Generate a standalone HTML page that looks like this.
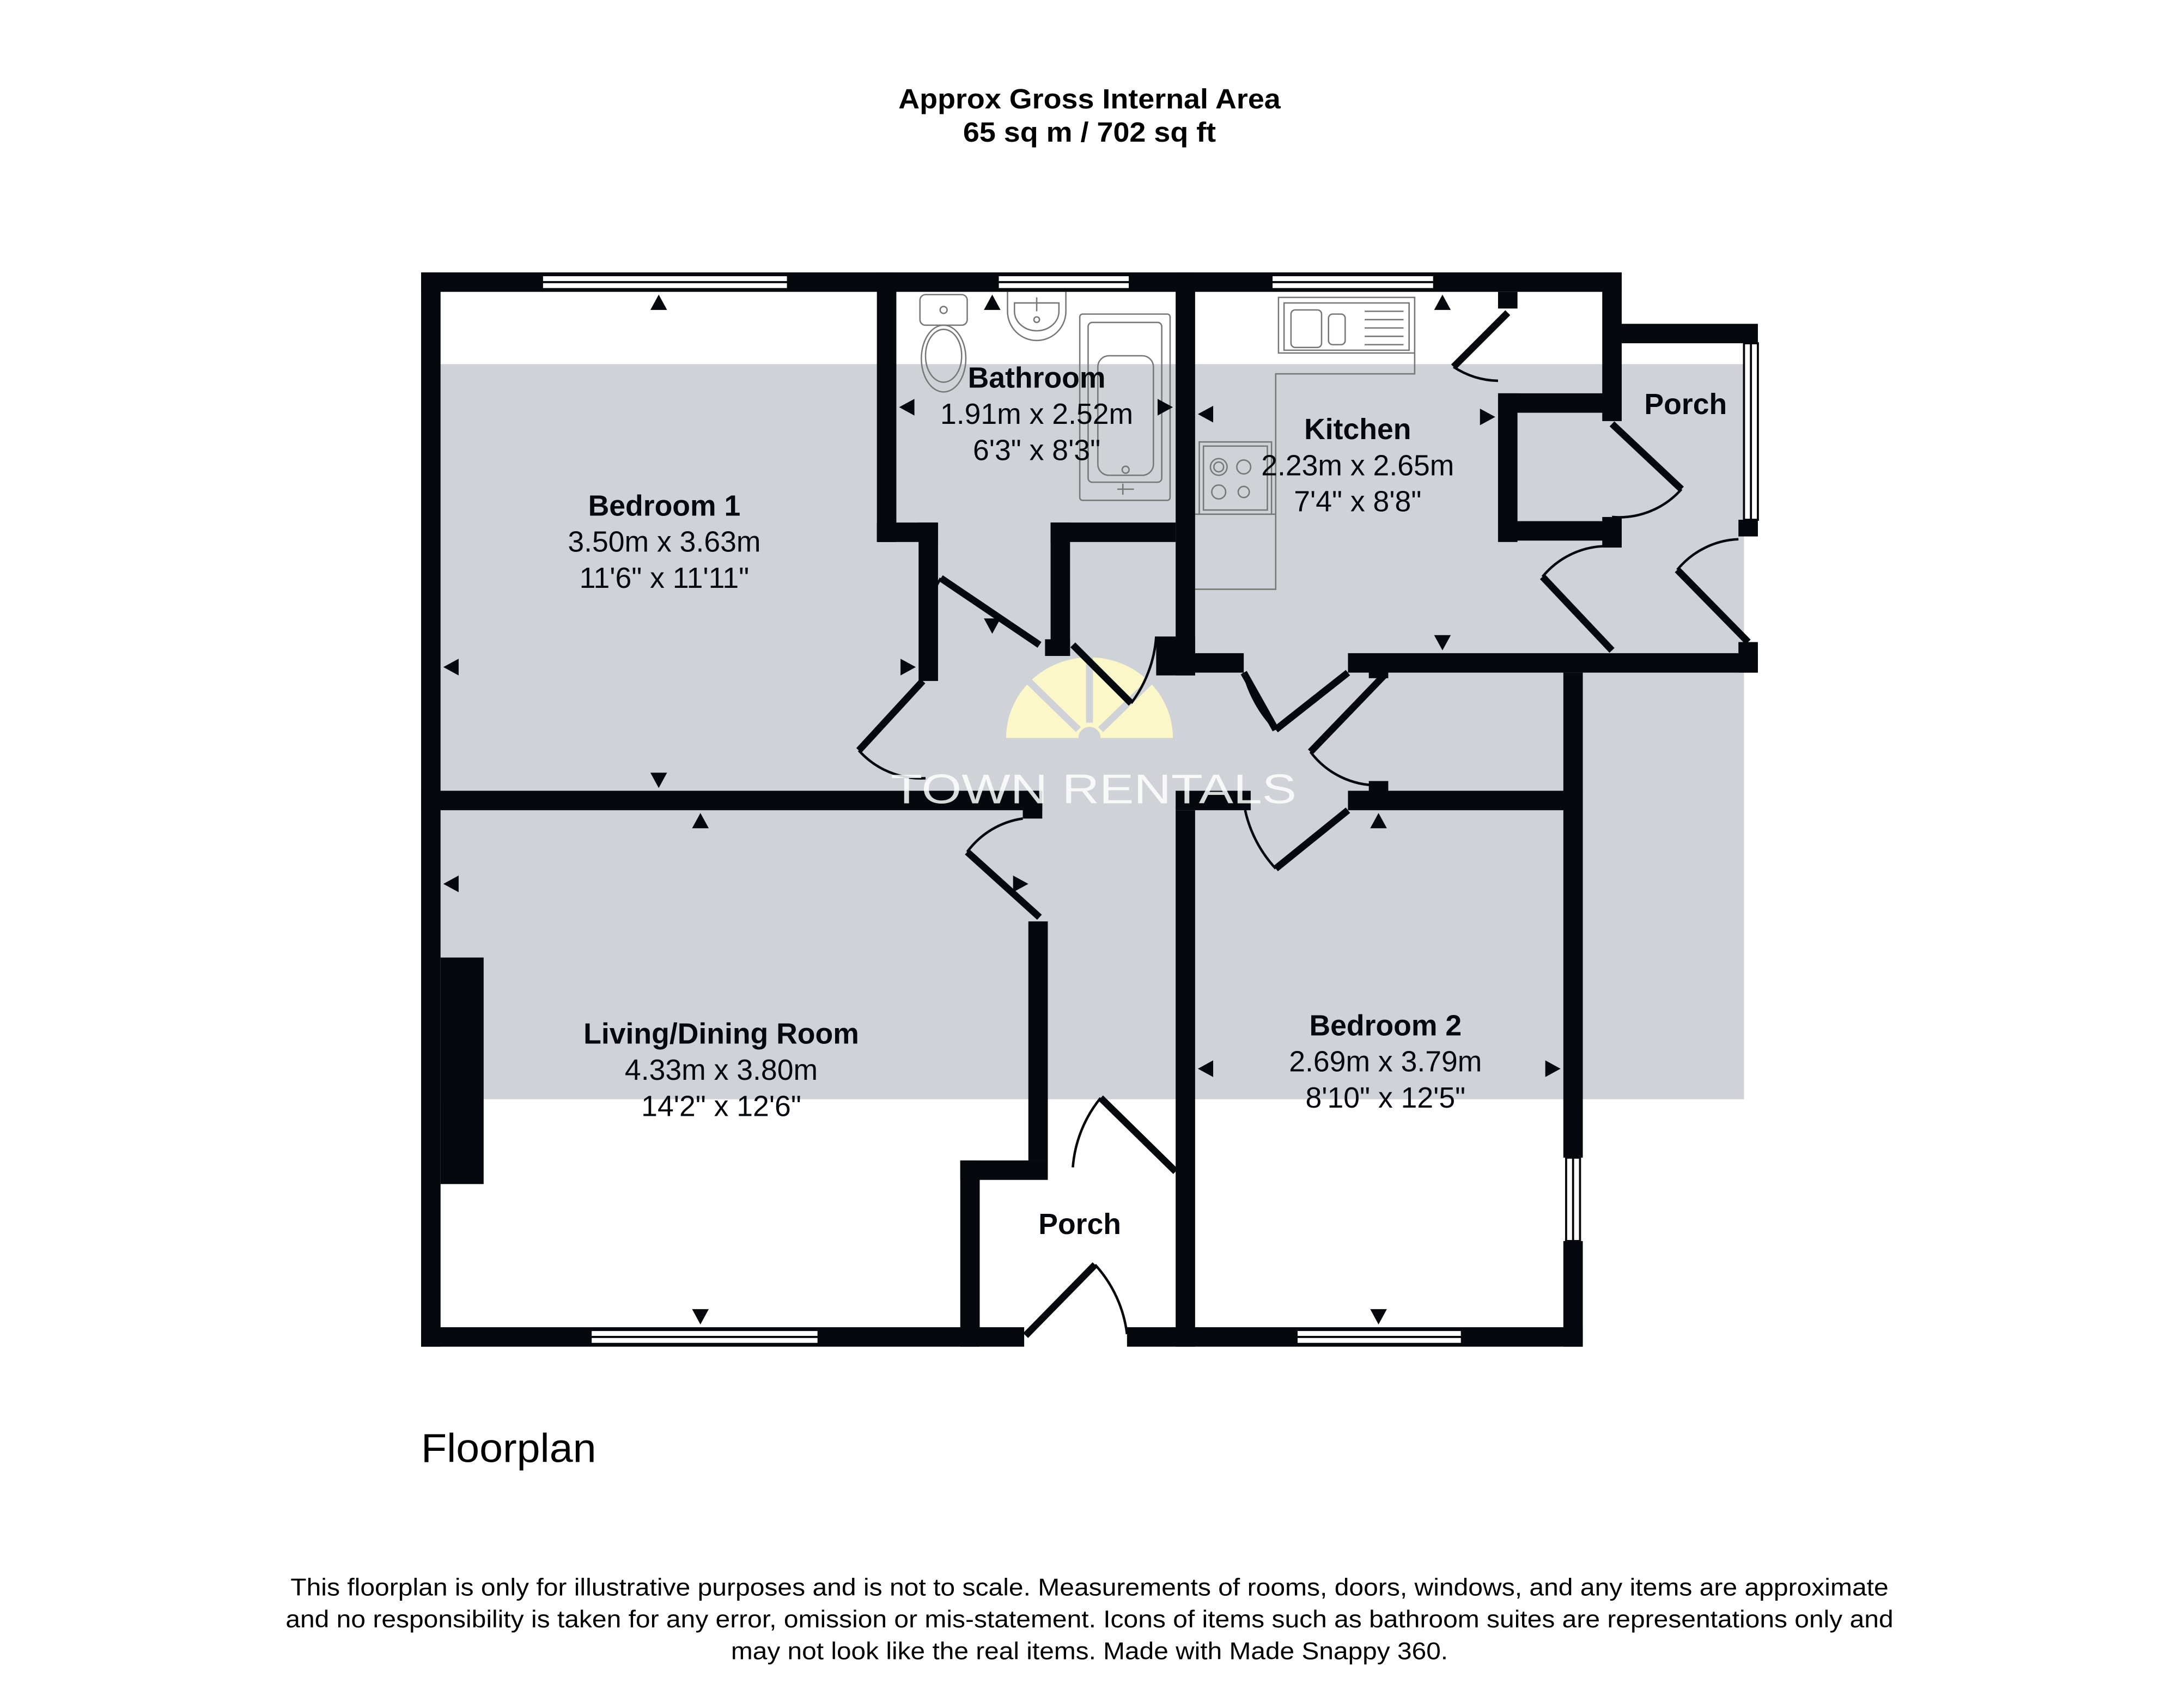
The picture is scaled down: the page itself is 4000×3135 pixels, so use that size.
<!DOCTYPE html>
<html><head><meta charset="utf-8"><style>html,body{margin:0;padding:0;background:#fff}svg{display:block}</style></head>
<body>
<svg width="4000" height="3135" viewBox="0 0 1568 1229" xmlns="http://www.w3.org/2000/svg" font-family="Liberation Sans, sans-serif">
<rect width="1568" height="1229" fill="#fff"/>
<text x="784" y="78" font-size="20" font-weight="bold" text-anchor="middle" textLength="275" lengthAdjust="spacingAndGlyphs">Approx Gross Internal Area</text>
<text x="784" y="102" font-size="20" font-weight="bold" text-anchor="middle" textLength="182" lengthAdjust="spacingAndGlyphs">65 sq m / 702 sq ft</text>

<!-- gray band -->
<rect x="317" y="262" width="938" height="529" fill="#cfd2d7"/>

<!-- fixtures -->
<g fill="none" stroke="#777" stroke-width="1">
<rect x="777" y="226" width="65" height="134" rx="2"/><rect x="783" y="232" width="53" height="115" rx="3"/><rect x="790" y="256" width="40" height="86" rx="8"/>
<circle cx="810" cy="338" r="2.5"/><path d="M808 348 v8 M804 352 h12"/>
<rect x="662" y="212" width="34" height="22" rx="4"/><circle cx="679" cy="223" r="2.5"/><ellipse cx="679" cy="258" rx="16" ry="24"/><ellipse cx="679" cy="256" rx="13" ry="19"/>
<path d="M725 210 v14 a21 21 0 0 0 42 0 v-14"/><path d="M730 218 h32 v6 a16 14 0 0 1 -32 0z"/><circle cx="746" cy="230" r="2"/><path d="M746 214 v10"/>
<rect x="920" y="214" width="98" height="40"/><rect x="924" y="218" width="90" height="34"/>
<rect x="929" y="223" width="22" height="27" rx="3"/><rect x="956" y="226" width="12" height="22" rx="3"/>
<path d="M982 224 h28 M982 230 h28 M982 236 h28 M982 242 h28 M982 248 h28"/>
<path d="M1018 254 v15 h-100 v155 h-58"/>
<rect x="863" y="318" width="52" height="52"/><rect x="866" y="321" width="46" height="46"/>
<circle cx="877" cy="336" r="6"/><circle cx="877" cy="336" r="3.5"/><circle cx="895" cy="336" r="5"/><circle cx="877" cy="354" r="5"/><circle cx="895" cy="354" r="4"/>
<path d="M860 370 h58"/>
</g>

<!-- watermark -->
<path d="M724 531 a60 58 0 0 1 120 0z" fill="#fbf7c9"/>
<g stroke="#cfd2d7" stroke-width="5"><line x1="784" y1="470" x2="784" y2="520"/><line x1="740" y1="490" x2="776" y2="525"/><line x1="828" y1="490" x2="792" y2="525"/></g>
<circle cx="784" cy="531" r="8" fill="#cfd2d7"/>

<!-- walls -->
<g fill="#05080c">
<rect x="303" y="196" width="14" height="773"/>
<rect x="303" y="196" width="864" height="14"/>
<rect x="303" y="955" width="434" height="14"/>
<rect x="811" y="955" width="328" height="14"/>
<rect x="631" y="196" width="14" height="194"/>
<rect x="631" y="376" width="44" height="14"/>
<rect x="661" y="376" width="14" height="114"/>
<rect x="846" y="196" width="14" height="290"/>
<rect x="832" y="458" width="28" height="28"/>
<rect x="832" y="470" width="63" height="14"/>
<rect x="756" y="376" width="90" height="14"/>
<rect x="756" y="376" width="14" height="96"/>
<rect x="752" y="460" width="18" height="12"/>
<rect x="1153" y="196" width="14" height="107"/>
<rect x="1078" y="210" width="14" height="12"/>
<rect x="1078" y="283" width="14" height="107"/>
<rect x="1078" y="283" width="82" height="14"/>
<rect x="1078" y="375" width="82" height="14"/>
<rect x="1153" y="372" width="14" height="22"/>
<rect x="1160" y="233" width="105" height="14"/>
<rect x="1251" y="374" width="14" height="12"/>
<rect x="1251" y="462" width="14" height="22"/>
<rect x="970" y="470" width="295" height="14"/>
<rect x="1125" y="484" width="14" height="349"/>
<rect x="1125" y="893" width="14" height="76"/>
<rect x="303" y="569" width="447" height="14"/>
<rect x="736" y="569" width="14" height="20"/>
<rect x="846" y="569" width="54" height="14"/>
<rect x="970" y="569" width="169" height="14"/>
<rect x="985" y="476" width="14" height="12"/><rect x="985" y="562" width="14" height="12"/>
<rect x="846" y="583" width="14" height="386"/>
<rect x="740" y="663" width="14" height="172"/>
<rect x="691" y="835" width="63" height="14"/>
<rect x="691" y="835" width="14" height="134"/>
<rect x="317" y="689" width="31" height="163"/>
</g>

<!-- windows -->
<g fill="#fff" stroke="#05080c" stroke-width="1.5">
<rect x="390" y="198" width="177" height="10"/><line x1="390" y1="203" x2="567" y2="203"/>
<rect x="718" y="198" width="95" height="10"/><line x1="718" y1="203" x2="813" y2="203"/>
<rect x="915" y="198" width="117" height="10"/><line x1="915" y1="203" x2="1032" y2="203"/>
<rect x="425" y="957" width="164" height="10"/><line x1="425" y1="962" x2="589" y2="962"/>
<rect x="933" y="957" width="119" height="10"/><line x1="933" y1="962" x2="1052" y2="962"/>
<rect x="1127" y="833" width="10" height="60"/><line x1="1132" y1="833" x2="1132" y2="893"/>
<rect x="1255" y="247" width="10" height="127"/><line x1="1260" y1="247" x2="1260" y2="374"/>
</g>

<!-- doors -->
<g stroke="#05080c" fill="none">
<g stroke-width="5">
<line x1="1085" y1="225" x2="1046" y2="264"/>
<line x1="1160" y1="305" x2="1210" y2="352"/>
<line x1="1110" y1="415" x2="1160" y2="468"/>
<line x1="1207" y1="410" x2="1258" y2="462"/>
<line x1="677" y1="416" x2="748" y2="464"/>
<line x1="772" y1="464" x2="814" y2="506"/>
<line x1="664" y1="490" x2="618" y2="540"/>
<line x1="895" y1="484" x2="918" y2="525"/><line x1="970" y1="484" x2="918" y2="525"/>
<line x1="996" y1="486" x2="943" y2="541"/>
<line x1="970" y1="583" x2="918" y2="625"/>
<line x1="696" y1="613" x2="748" y2="660"/>
<line x1="792" y1="790" x2="846" y2="843"/>
<line x1="738" y1="961" x2="788" y2="910"/>
</g>
<g stroke-width="1.8">
<path d="M1046 264 a60 60 0 0 0 32 10"/>
<path d="M1210 352 a60 60 0 0 1 -50 20"/>
<path d="M1110 415 a60 60 0 0 1 44 -22"/>
<path d="M1207 410 a60 60 0 0 1 44 -22"/>
<path d="M677 416 a90 90 0 0 0 -10 72"/>
<path d="M814 506 a90 90 0 0 0 18 -48"/>
<path d="M618 540 a60 60 0 0 0 48 20"/>
<path d="M895 484 a90 90 0 0 0 23 41"/>
<path d="M943 541 a60 60 0 0 0 50 24"/>
<path d="M896 583 a90 90 0 0 0 22 42"/>
<path d="M696 613 a60 60 0 0 1 40 -24"/>
<path d="M792 790 a90 90 0 0 0 -20 50"/>
<path d="M788 910 a90 90 0 0 1 23 50"/>
</g>
</g>

<!-- arrows -->
<g fill="#05080c">
<path d="M474 212 l-6 11 h12z"/><path d="M714 212 l-6 11 h12z"/><path d="M1038 212 l-6 11 h12z"/>
<path d="M474 567 l-6 -11 h12z"/><path d="M504 585 l-6 11 h12z"/><path d="M504 953 l-6 -11 h12z"/>
<path d="M992 953 l-6 -11 h12z"/><path d="M992 585 l-6 11 h12z"/><path d="M1038 468 l-6 -11 h12z"/>
<path d="M714 456 l-6 -11 h12z"/>
<path d="M319 480 l11 -6 v12z"/><path d="M319 636 l11 -6 v12z"/><path d="M862 769 l11 -6 v12z"/>
<path d="M862 298 l11 -6 v12z"/><path d="M647 293 l11 -6 v12z"/>
<path d="M659 480 l-11 -6 v12z"/><path d="M844 293 l-11 -6 v12z"/><path d="M1123 769 l-11 -6 v12z"/>
<path d="M1076 300 l-11 -6 v12z"/><path d="M740 636 l-11 -6 v12z"/>
</g>

<text x="787" y="578" font-size="30" fill="#fff" fill-opacity="0.85" text-anchor="middle" textLength="292" lengthAdjust="spacingAndGlyphs">TOWN RENTALS</text>

<!-- labels -->
<g text-anchor="middle" fill="#05080c">
<text x="478" y="371" font-size="21" font-weight="bold">Bedroom 1</text>
<text x="478" y="397" font-size="21">3.50m x 3.63m</text>
<text x="478" y="423" font-size="21">11'6" x 11'11"</text>
<text x="746" y="279" font-size="21" font-weight="bold">Bathroom</text>
<text x="746" y="305" font-size="21">1.91m x 2.52m</text>
<text x="746" y="331" font-size="21">6'3" x 8'3"</text>
<text x="977" y="316" font-size="21" font-weight="bold">Kitchen</text>
<text x="977" y="342" font-size="21">2.23m x 2.65m</text>
<text x="977" y="368" font-size="21">7'4" x 8'8"</text>
<text x="1213" y="298" font-size="21" font-weight="bold">Porch</text>
<text x="519" y="751" font-size="21" font-weight="bold">Living/Dining Room</text>
<text x="519" y="777" font-size="21">4.33m x 3.80m</text>
<text x="519" y="803" font-size="21">14'2" x 12'6"</text>
<text x="997" y="745" font-size="21" font-weight="bold">Bedroom 2</text>
<text x="997" y="771" font-size="21">2.69m x 3.79m</text>
<text x="997" y="797" font-size="21">8'10" x 12'5"</text>
<text x="777" y="888" font-size="21" font-weight="bold">Porch</text>
</g>

<text x="303" y="1052" font-size="29" textLength="126" lengthAdjust="spacingAndGlyphs">Floorplan</text>
<g font-size="17.5" text-anchor="middle">
<text x="784" y="1148" textLength="1150" lengthAdjust="spacingAndGlyphs">This floorplan is only for illustrative purposes and is not to scale. Measurements of rooms, doors, windows, and any items are approximate</text>
<text x="784" y="1171" textLength="1157" lengthAdjust="spacingAndGlyphs">and no responsibility is taken for any error, omission or mis-statement. Icons of items such as bathroom suites are representations only and</text>
<text x="784" y="1194" textLength="516" lengthAdjust="spacingAndGlyphs">may not look like the real items. Made with Made Snappy 360.</text>
</g>
</svg>
</body></html>
